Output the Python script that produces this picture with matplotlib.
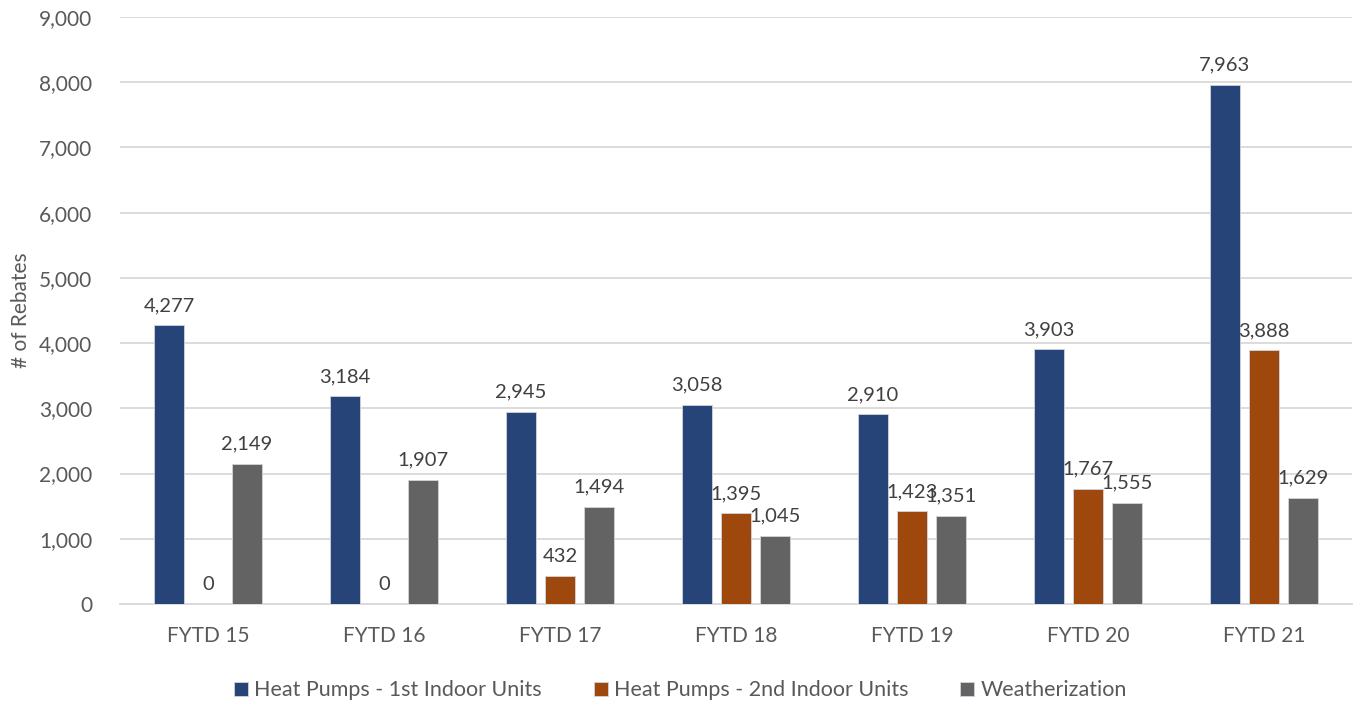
import matplotlib.pyplot as plt
import numpy as np

# ---------------------------------------
# Data
# ---------------------------------------
years = ["FYTD 15", "FYTD 16", "FYTD 17", "FYTD 18", "FYTD 19", "FYTD 20", "FYTD 21"]
first_units = [4277, 3184, 2945, 3058, 2910, 3903, 7963]
second_units = [0, 0, 432, 1395, 1423, 1767, 3888]
weatherization = [2149, 1907, 1494, 1045, 1351, 1555, 1629]

series_names = ["Heat Pumps - 1st Indoor Units",
                "Heat Pumps - 2nd Indoor Units",
                "Weatherization"]
colors = ["#264478", "#9E480E", "#636363"]

plt.rcParams['font.family'] = ['Lato', 'DejaVu Sans']

# ---------------------------------------
# Figure
# ---------------------------------------
fig = plt.figure(figsize=(13.54, 7.02), dpi=100)
ax = fig.add_axes([0.0886, 0.1396, 0.9099, 0.8362])

x = np.arange(len(years))
width = 0.17
offset = 0.222

for i, (vals, name, col) in enumerate(zip([first_units, second_units, weatherization],
                                           series_names, colors)):
    pos = x + (i - 1) * offset
    bars = ax.bar(pos, vals, width, color=col, label=name,
                  edgecolor="#D0D5DE", linewidth=0.6, zorder=3)
    for b, v in zip(bars, vals):
        ax.annotate(f"{v:,}", (b.get_x() + b.get_width() / 2, v),
                    xytext=(0, 8), textcoords="offset points",
                    ha="center", va="bottom", fontsize=14.5, color="#404040", zorder=4)

ax.set_xlim(-0.5, len(years) - 0.5)
ax.set_ylim(0, 9000)
ax.set_yticks(np.arange(0, 9001, 1000))
ax.yaxis.set_major_formatter(plt.FuncFormatter(lambda v, p: f"{int(v):,}"))
ax.set_xticks(x)
ax.set_xticklabels(years)

ax.grid(axis="y", color="#D9D9D9", linewidth=1.3, zorder=0)
for s in ["top", "right", "left"]:
    ax.spines[s].set_visible(False)
ax.spines["bottom"].set_color("#D9D9D9")
ax.spines["bottom"].set_linewidth(1.3)
ax.tick_params(axis="both", length=0, labelsize=15, labelcolor="#595959")
ax.tick_params(axis="x", pad=16)
ax.tick_params(axis="y", pad=20)

ax.set_ylabel("# of Rebates", fontsize=15, color="#595959", labelpad=6)

ax.legend(loc="center", bbox_to_anchor=(0.455, -0.147), ncol=3, frameon=False,
          fontsize=15.5, labelcolor="#595959", handlelength=0.65, handleheight=0.65,
          handletextpad=0.3, columnspacing=2.4)

fig.savefig("out.png", dpi=100)
